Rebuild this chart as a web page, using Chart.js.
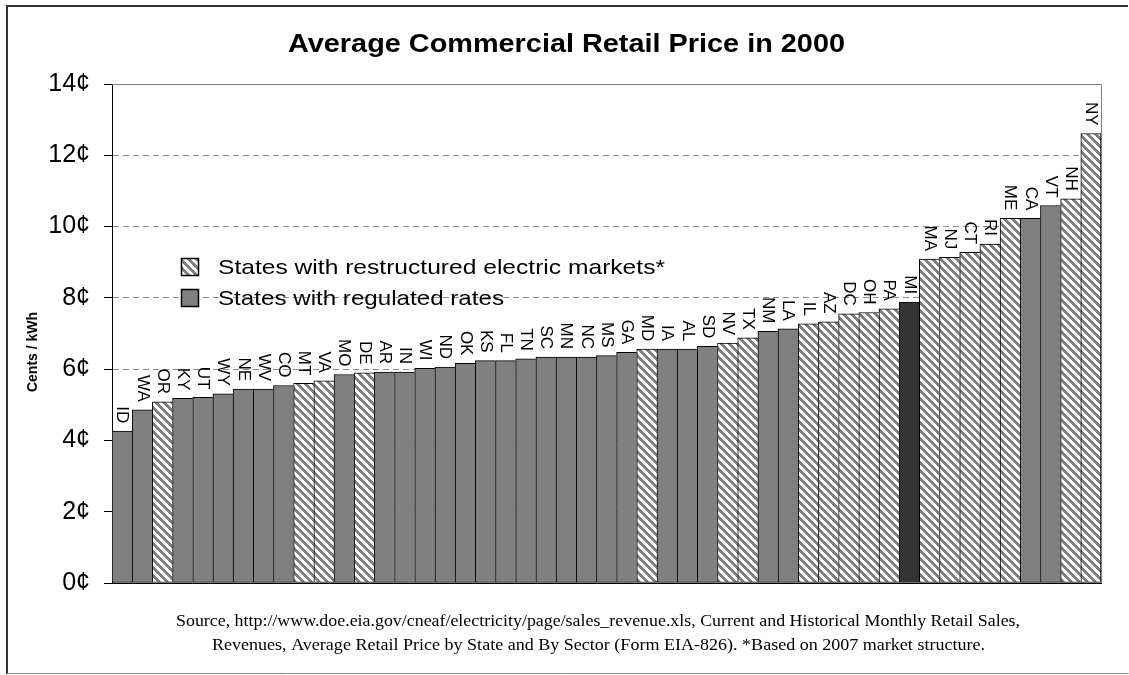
<!DOCTYPE html>
<html>
<head>
<meta charset="utf-8">
<script src="https://cdn.jsdelivr.net/npm/chart.js@4.4.1/dist/chart.umd.min.js"></script>
<style>
html,body{margin:0;padding:0;background:#fff;}
#wrap{position:relative;width:1129px;height:675px;}
</style>
</head>
<body>
<div id="wrap"><canvas id="c"></canvas></div>
<script>
// ---- data ----
const states = ['ID','WA','OR','KY','UT','WY','NE','WV','CO','MT','VA','MO','DE','AR','IN','WI','ND','OK','KS','FL','TN','SC','MN','NC','MS','GA','MD','IA','AL','SD','NV','TX','NM','LA','IL','AZ','DC','OH','PA','MI','MA','NJ','CT','RI','ME','CA','VT','NH','NY'];
const prices = [4.26,4.86,5.08,5.18,5.21,5.31,5.44,5.44,5.54,5.60,5.67,5.85,5.90,5.92,5.92,6.02,6.06,6.16,6.24,6.24,6.29,6.34,6.34,6.34,6.38,6.47,6.56,6.56,6.56,6.64,6.73,6.88,7.06,7.13,7.27,7.33,7.55,7.59,7.69,7.88,9.09,9.14,9.28,9.51,10.23,10.23,10.59,10.78,12.61];
// R = restructured, G = regulated, H = highlighted
const marketType = ['G','G','R','G','G','G','G','G','G','R','R','G','R','G','G','G','G','G','G','G','G','G','G','G','G','G','R','G','G','G','R','R','G','G','R','R','R','R','R','H','R','R','R','R','R','G','G','R','R'];
const yTicks = [0,2,4,6,8,10,12,14];
const titleText = 'Average Commercial Retail Price in 2000';
const yTitle = 'Cents / kWh';
const legendLabels = ['States with restructured electric markets*','States with regulated rates'];
const sourceLines = [
  'Source, http://www.doe.eia.gov/cneaf/electricity/page/sales_revenue.xls, Current and Historical Monthly Retail Sales,',
  'Revenues, Average Retail Price by State and By Sector (Form EIA-826). *Based on 2007 market structure.'
];

const SANS = "'Liberation Sans', Arial, sans-serif";
const SERIF = "'Liberation Serif', 'Times New Roman', serif";
Chart.defaults.font.family = SANS;
Chart.defaults.color = '#000';

function makeHatch(){
  const c = document.createElement('canvas');
  c.width = 8; c.height = 8;
  const g = c.getContext('2d');
  const img = g.createImageData(8,8);
  for(let y=0;y<8;y++){for(let x=0;x<8;x++){
    const k = (((x - y) % 8) + 8) % 8;
    const v = k < 4 ? 128 : 255;
    const i = (y*8+x)*4;
    img.data[i]=v;img.data[i+1]=v;img.data[i+2]=v;img.data[i+3]=255;
  }}
  g.putImageData(img,0,0);
  return g.createPattern(c,'repeat');
}
const ctx = document.getElementById('c').getContext('2d');
const hatch = makeHatch();
const GRAY = '#808080', DARK = '#333333';
function fillFor(t){ return t==='R' ? hatch : (t==='H' ? DARK : GRAY); }

// draw text stretched horizontally to a target width
function fitText(ctx, txt, left, right, cy){
  const w = ctx.measureText(txt).width;
  const sx = (right-left)/w;
  ctx.save();
  ctx.translate(left, cy);
  ctx.scale(sx, 1);
  ctx.textAlign = 'left';
  ctx.textBaseline = 'middle';
  ctx.fillText(txt, 0, 0);
  ctx.restore();
}

const extras = {
  id:'extras',
  beforeDatasetsDraw(chart){
    const {ctx, chartArea:a} = chart;
    ctx.save();
    ctx.strokeStyle = '#808080'; ctx.lineWidth = 1;
    ctx.beginPath();
    ctx.moveTo(a.left, Math.round(a.top)+0.5);
    ctx.lineTo(Math.round(a.right)+0.5, Math.round(a.top)+0.5);
    ctx.lineTo(Math.round(a.right)+0.5, a.bottom);
    ctx.stroke();
    ctx.restore();
  },
  afterDatasetsDraw(chart){
    const {ctx} = chart;
    const meta = chart.getDatasetMeta(0);
    ctx.save();
    // labels above bars
    ctx.font = '17px ' + SANS;
    ctx.fillStyle = '#000';
    ctx.textAlign = 'right';
    ctx.textBaseline = 'middle';
    meta.data.forEach((el,i)=>{
      ctx.save();
      ctx.translate(el.x, el.y - 8);
      ctx.rotate(Math.PI/2);
      ctx.fillText(states[i], 0, 0);
      ctx.restore();
    });
    // legend
    const lx = 181, rowY = [267, 298], sw = 18;
    const ends = [665, 504];
    ctx.font = '21px ' + SANS;
    [hatch, GRAY].forEach((f,k)=>{
      const top = Math.round(rowY[k] - sw/2);
      ctx.fillStyle = f;
      ctx.fillRect(lx, top, sw, sw);
      ctx.strokeStyle = '#000'; ctx.lineWidth = 1.5;
      ctx.strokeRect(lx+0.5, top+0.5, sw-1, sw-1);
      ctx.fillStyle = '#000';
      fitText(ctx, legendLabels[k], 218, ends[k], rowY[k]+1);
    });
    ctx.restore();
  },
  afterDraw(chart){
    const {ctx} = chart;
    ctx.save();
    ctx.fillStyle = '#000';
    // title
    ctx.font = 'bold 26px ' + SANS;
    fitText(ctx, titleText, 288, 845, 45);
    // y title
    ctx.font = 'bold 14px ' + SANS;
    ctx.save();
    ctx.textAlign = 'center'; ctx.textBaseline = 'middle';
    ctx.translate(33, 352); ctx.rotate(-Math.PI/2);
    ctx.fillText(yTitle, 0, 0);
    ctx.restore();
    // source
    ctx.font = '16px ' + SERIF;
    fitText(ctx, sourceLines[0], 176, 1020, 622);
    fitText(ctx, sourceLines[1], 212, 985, 646);
    // outer border
    ctx.strokeStyle = '#333'; ctx.lineWidth = 2;
    ctx.beginPath(); ctx.moveTo(7, 674); ctx.lineTo(7, 6); ctx.lineTo(1128, 6); ctx.stroke();
    ctx.strokeStyle = '#888'; ctx.lineWidth = 1;
    ctx.beginPath(); ctx.moveTo(7, 673.5); ctx.lineTo(1128.5, 673.5); ctx.stroke();
    ctx.restore();
  }
};

new Chart(ctx, {
  type:'bar',
  data:{
    labels: states,
    datasets:[{
      data: prices,
      backgroundColor: marketType.map(fillFor),
      borderColor:'#000',
      borderWidth:1,
      borderSkipped: c => c.dataIndex === prices.length-1 ? false : 'right',
      categoryPercentage:1,
      barPercentage:1
    }]
  },
  options:{
    responsive:true,
    maintainAspectRatio:false,
    animation:false,
    devicePixelRatio:1,
    layout:{padding:{left:0,right:28,top:84,bottom:92}},
    plugins:{
      legend:{display:false},
      tooltip:{enabled:false},
      title:{display:false}
    },
    scales:{
      x:{
        grid:{display:false,drawTicks:false},
        ticks:{display:false},
        border:{display:true,color:'#000',width:1}
      },
      y:{
        min:0,max:14,
        afterFit(s){ s.width = 112; },
        afterBuildTicks(s){ s.ticks = yTicks.map(v=>({value:v})); },
        ticks:{font:{size:25,family:SANS},color:'#000',padding:14,
          callback:v=>v+'¢'},
        grid:{color:'#8c8c8c',lineWidth:1,drawTicks:true,tickLength:8,tickColor:'#000',tickBorderDash:[]},
        border:{display:true,color:'#000',width:1,dash:[6,4]}
      }
    }
  },
  plugins:[extras]
});
</script>
</body>
</html>
